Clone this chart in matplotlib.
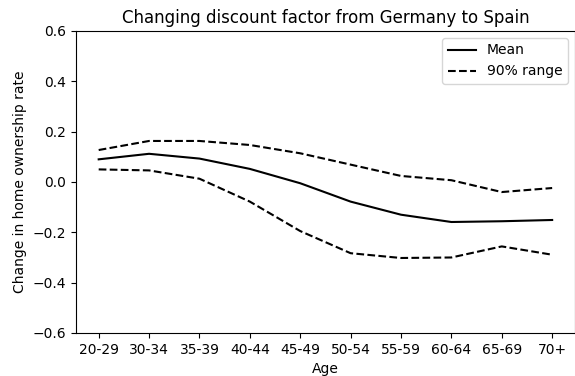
import numpy as np
import matplotlib
matplotlib.use('Agg')
from matplotlib import pyplot as plt

ages = ['20-29', '30-34', '35-39', '40-44', '45-49', '50-54', '55-59', '60-64', '65-69', '70+']
mean = [0.090, 0.112, 0.093, 0.052, -0.005, -0.078, -0.130, -0.159, -0.156, -0.151]
upper = [0.127, 0.163, 0.163, 0.147, 0.114, 0.069, 0.024, 0.007, -0.040, -0.024]
lower = [0.050, 0.046, 0.013, -0.078, -0.195, -0.283, -0.302, -0.300, -0.256, -0.289]

fig = plt.figure(figsize=(5.75, 3.76), dpi=100)
ax = fig.add_axes([0.1322, 0.1144, 0.8675, 0.8032])
x = np.arange(len(ages))
ax.plot(x, mean, 'k-', label='Mean')
ax.plot(x, upper, 'k--', label='90% range')
ax.plot(x, lower, 'k--')

ax.set_xticks(x)
ax.set_xticklabels(ages)
ax.set_ylim(-0.6, 0.6)
ax.set_yticks([-0.6, -0.4, -0.2, 0.0, 0.2, 0.4, 0.6])
ax.set_xlabel('Age')
ax.set_ylabel('Change in home ownership rate')
ax.set_title('Changing discount factor from Germany to Spain')
ax.legend(loc='upper right')

plt.savefig('out.png')
